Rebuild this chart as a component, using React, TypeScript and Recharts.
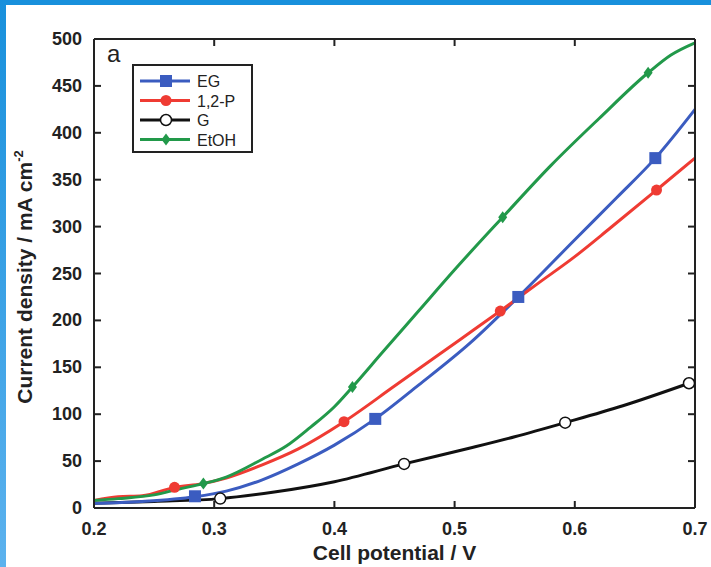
import { ComposedChart, Line, Scatter, XAxis, YAxis, Legend } from "recharts";

const xTicks = [0.2, 0.3, 0.4, 0.5, 0.6, 0.7];
const yTicks = [0, 50, 100, 150, 200, 250, 300, 350, 400, 450, 500];

// smooth curves (cell potential V, current density mA cm-2)
const egCurve = [
  { x: 0.2, y: 5 }, { x: 0.24, y: 7 }, { x: 0.284, y: 12 }, { x: 0.31, y: 18 },
  { x: 0.34, y: 30 }, { x: 0.37, y: 47 }, { x: 0.4, y: 67 }, { x: 0.434, y: 95 },
  { x: 0.47, y: 131 }, { x: 0.513, y: 176 }, { x: 0.553, y: 225 }, { x: 0.6, y: 286 },
  { x: 0.635, y: 331 }, { x: 0.667, y: 373 }, { x: 0.7, y: 425 },
];
const propCurve = [
  { x: 0.2, y: 8 }, { x: 0.22, y: 12 }, { x: 0.24, y: 13 }, { x: 0.267, y: 22 },
  { x: 0.29, y: 26 }, { x: 0.31, y: 32 }, { x: 0.34, y: 46 }, { x: 0.37, y: 63 },
  { x: 0.408, y: 92 }, { x: 0.45, y: 130 }, { x: 0.505, y: 180 }, { x: 0.538, y: 210 },
  { x: 0.57, y: 240 }, { x: 0.6, y: 268 }, { x: 0.63, y: 299 }, { x: 0.668, y: 339 },
  { x: 0.7, y: 373 },
];
const glyCurve = [
  { x: 0.2, y: 5 }, { x: 0.25, y: 7 }, { x: 0.305, y: 10 }, { x: 0.35, y: 17 },
  { x: 0.4, y: 28 }, { x: 0.458, y: 47 }, { x: 0.513, y: 64 }, { x: 0.55, y: 76 },
  { x: 0.592, y: 91 }, { x: 0.64, y: 109 }, { x: 0.695, y: 133 },
];
const etohCurve = [
  { x: 0.2, y: 8 }, { x: 0.22, y: 10 }, { x: 0.25, y: 14 }, { x: 0.27, y: 20 },
  { x: 0.291, y: 26 }, { x: 0.31, y: 33 }, { x: 0.34, y: 52 }, { x: 0.36, y: 66 },
  { x: 0.38, y: 86 }, { x: 0.4, y: 108 }, { x: 0.415, y: 129 }, { x: 0.44, y: 166 },
  { x: 0.47, y: 210 }, { x: 0.5, y: 254 }, { x: 0.54, y: 310 }, { x: 0.58, y: 365 },
  { x: 0.62, y: 415 }, { x: 0.661, y: 464 }, { x: 0.68, y: 483 }, { x: 0.7, y: 496 },
];

// marker positions
const egMarks = [{ x: 0.284, y: 12.5 }, { x: 0.434, y: 95 }, { x: 0.553, y: 225 }, { x: 0.667, y: 373 }];
const propMarks = [{ x: 0.267, y: 22 }, { x: 0.408, y: 92 }, { x: 0.538, y: 210 }, { x: 0.668, y: 339 }];
const glyMarks = [{ x: 0.305, y: 10 }, { x: 0.458, y: 47 }, { x: 0.592, y: 91 }, { x: 0.695, y: 133 }];
const etohMarks = [{ x: 0.291, y: 26 }, { x: 0.415, y: 129 }, { x: 0.54, y: 310 }, { x: 0.661, y: 464 }];

const BLUE = "#3b5cc0";
const RED = "#ef3b33";
const BLACK = "#111";
const GREEN = "#22994a";
const AXIS = "#222";
const FONT = "'Liberation Sans', Arial, sans-serif";

const Square = ({ cx, cy }: any) => <rect x={cx - 6} y={cy - 6} width={12} height={12} fill={BLUE} />;
const RedDot = ({ cx, cy }: any) => <circle cx={cx} cy={cy} r={5.5} fill={RED} />;
const OpenDot = ({ cx, cy }: any) => <circle cx={cx} cy={cy} r={5.5} fill="#fff" stroke={BLACK} strokeWidth={1.5} />;
const Diamond = ({ cx, cy }: any) => (
  <path d={`M${cx},${cy - 6} L${cx + 4.5},${cy} L${cx},${cy + 6} L${cx - 4.5},${cy} Z`} fill={GREEN} />
);

const BottomTick = ({ x, y, payload }: any) => (
  <g>
    <line x1={x} x2={x} y1={y - 8} y2={y - 15} stroke={AXIS} strokeWidth={2} />
    <text x={x} y={y + 19} textAnchor="middle" fontFamily={FONT} fontWeight={700} fontSize={18} fill={AXIS}>
      {payload.value.toFixed(1)}
    </text>
  </g>
);
const TopTick = ({ x, y }: any) => <line x1={x} x2={x} y1={y + 8} y2={y + 15} stroke={AXIS} strokeWidth={2} />;
const LeftTick = ({ x, y, payload }: any) => (
  <g>
    <line x1={x + 12} x2={x + 19} y1={y} y2={y} stroke={AXIS} strokeWidth={2} />
    <text x={x} y={y + 6} textAnchor="end" fontFamily={FONT} fontWeight={700} fontSize={18} fill={AXIS}>
      {payload.value}
    </text>
  </g>
);
const RightTick = ({ x, y }: any) => <line x1={x - 8} x2={x - 15} y1={y} y2={y} stroke={AXIS} strokeWidth={2} />;

const YLabel = () => (
  <text
    transform="translate(32,277) rotate(-90)"
    textAnchor="middle"
    fontFamily={FONT}
    fontWeight={700}
    fontSize={21}
    fill={AXIS}
  >
    Current density / mA cm
    <tspan dy={-9} fontSize={13}>-2</tspan>
  </text>
);

const legendItems = [
  { name: "EG", color: BLUE, shape: "square" },
  { name: "1,2-P", color: RED, shape: "dot" },
  { name: "G", color: BLACK, shape: "open" },
  { name: "EtOH", color: GREEN, shape: "diamond" },
];

const LegendBox = () => (
  <svg width={121} height={89} style={{ display: "block" }}>
    <rect x={1} y={1} width={119} height={87} fill="#fff" stroke={AXIS} strokeWidth={2} />
    {legendItems.map((d, i) => {
      const cy = 17 + i * 19.5;
      return (
        <g key={d.name}>
          <line x1={8} x2={58} y1={cy} y2={cy} stroke={d.color} strokeWidth={3} />
          {d.shape === "square" && <Square cx={34} cy={cy} />}
          {d.shape === "dot" && <RedDot cx={34} cy={cy} />}
          {d.shape === "open" && <OpenDot cx={34} cy={cy} />}
          {d.shape === "diamond" && <Diamond cx={34} cy={cy} />}
          <text x={65} y={cy + 6} fontFamily={FONT} fontSize={16} fill={AXIS}>
            {d.name}
          </text>
        </g>
      );
    })}
  </svg>
);

export default function App() {
  return (
    <div style={{ position: "absolute", left: 0, top: 0, width: 711, height: 567, background: "#fff", overflow: "hidden" }}>
      <div style={{ position: "absolute", left: 0, top: 0, width: 711, height: 5, background: "#1890dc" }} />
      <div
        style={{
          position: "absolute",
          left: 0,
          top: 0,
          width: 6,
          height: 567,
          background: "linear-gradient(#1890dc, #5cb2ee)",
        }}
      />
      <div style={{ position: "absolute", left: 107, top: 40, fontFamily: FONT, fontSize: 24, color: AXIS }}>a</div>
      <ComposedChart width={711} height={567} margin={{ top: 38, right: 15, bottom: 0, left: 0 }}>
        <XAxis
          xAxisId={0}
          dataKey="x"
          type="number"
          domain={[0.2, 0.7]}
          ticks={xTicks}
          height={59}
          tickSize={0}
          tickMargin={8}
          tick={<BottomTick />}
          tickLine={false}
          axisLine={{ stroke: AXIS, strokeWidth: 2 }}
          allowDataOverflow
          label={{ value: "Cell potential / V", position: "insideBottom", offset: 7, fontFamily: FONT, fontWeight: 700, fontSize: 21, fill: AXIS }}
        />
        <XAxis
          xAxisId="top"
          orientation="top"
          dataKey="x"
          type="number"
          domain={[0.2, 0.7]}
          ticks={xTicks}
          height={1}
          tickSize={0}
          tickMargin={8}
          tick={<TopTick />}
          tickLine={false}
          axisLine={{ stroke: AXIS, strokeWidth: 2 }}
          allowDataOverflow
        />
        <YAxis
          yAxisId={0}
          type="number"
          domain={[0, 500]}
          ticks={yTicks}
          width={94}
          tickSize={0}
          tickMargin={12}
          tick={<LeftTick />}
          tickLine={false}
          axisLine={{ stroke: AXIS, strokeWidth: 2 }}
          allowDataOverflow
          label={{ content: <YLabel /> }}
        />
        <YAxis
          yAxisId="right"
          orientation="right"
          type="number"
          domain={[0, 500]}
          ticks={yTicks}
          width={1}
          tickSize={0}
          tickMargin={8}
          tick={<RightTick />}
          tickLine={false}
          axisLine={{ stroke: AXIS, strokeWidth: 2 }}
          allowDataOverflow
        />
        <Legend
          layout="horizontal"
          verticalAlign="middle"
          align="center"
          content={<LegendBox />}
          wrapperStyle={{ position: "absolute", left: 132, top: 64, width: 121, height: 89 }}
        />
        <Line data={glyCurve} dataKey="y" type="monotone" stroke={BLACK} strokeWidth={3} dot={false} isAnimationActive={false} />
        <Line data={egCurve} dataKey="y" type="monotone" stroke={BLUE} strokeWidth={3} dot={false} isAnimationActive={false} />
        <Line data={propCurve} dataKey="y" type="monotone" stroke={RED} strokeWidth={3} dot={false} isAnimationActive={false} />
        <Line data={etohCurve} dataKey="y" type="monotone" stroke={GREEN} strokeWidth={3} dot={false} isAnimationActive={false} />
        <Scatter data={glyMarks} dataKey="y" shape={<OpenDot />} isAnimationActive={false} />
        <Scatter data={egMarks} dataKey="y" shape={<Square />} isAnimationActive={false} />
        <Scatter data={propMarks} dataKey="y" shape={<RedDot />} isAnimationActive={false} />
        <Scatter data={etohMarks} dataKey="y" shape={<Diamond />} isAnimationActive={false} />
      </ComposedChart>
    </div>
  );
}
